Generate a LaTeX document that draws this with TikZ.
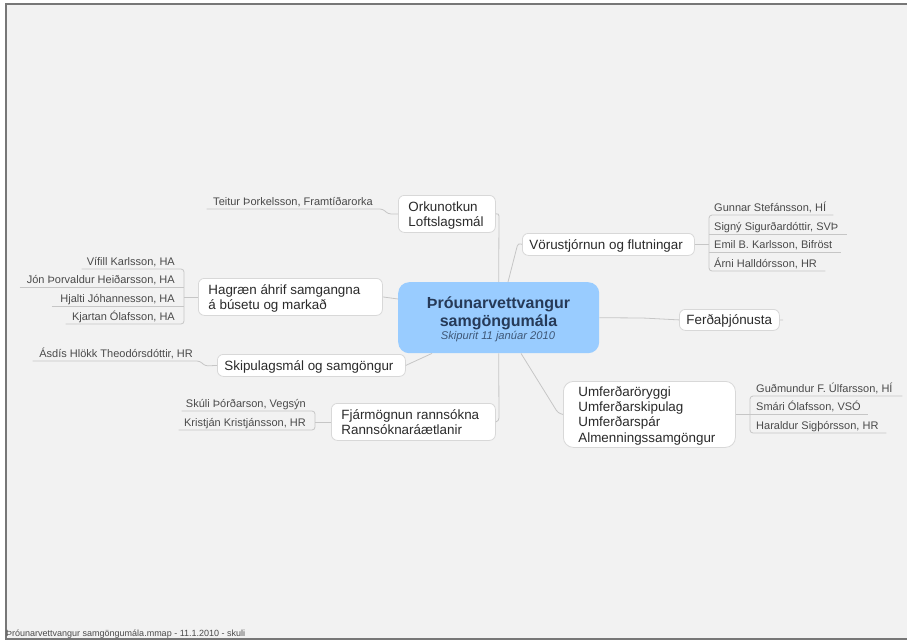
\documentclass[tikz,border=0pt]{standalone}
\usepackage{fontspec}
\setmainfont{Liberation Sans}
\definecolor{bgc}{HTML}{F2F2F2}
\definecolor{framec}{HTML}{777777}
\definecolor{linec}{HTML}{C6C6C6}
\definecolor{edgec}{HTML}{D8D8D8}
\definecolor{txtc}{HTML}{2A2A2A}
\definecolor{leafc}{HTML}{4A4A4A}
\definecolor{rootc}{HTML}{99CCFF}
\definecolor{roott}{HTML}{263A58}
\definecolor{subt}{HTML}{3F5878}
% box text: width, left pad, lines
\newcommand{\boxtext}[3]{\vbox{\kern3.6pt\hbox to #1pt{\hskip #2pt\begin{tabular}{@{}l@{}}#3\end{tabular}\hss}}}
\newcommand{\leftleaf}[3]{\hbox to #1pt{\hss #3\hskip #2pt}}
\newcommand{\rightleaf}[3]{\hbox to #1pt{\hskip #2pt #3\hss}}
\tikzset{
  topic/.style={draw=edgec,line width=0.8pt,fill=white,rounded corners=6pt,inner sep=0pt,anchor=north west,
    text=txtc,font=\fontsize{13.4}{15.2}\selectfont},
  leafnode/.style={inner xsep=0pt,inner ysep=3.5pt,text depth=0pt,text=leafc,font=\fontsize{11}{13}\selectfont},
  leafl/.style={leafnode,anchor=south east},
  leafr/.style={leafnode,anchor=south west},
  conn/.style={draw=linec,line width=0.8pt,rounded corners=3pt},
}
\begin{document}
\begin{tikzpicture}[x=1pt,y=-1pt]
\useasboundingbox (0,0) rectangle (907,640);
\fill[white] (0,0) rectangle (907,640);
\fill[bgc] (6,4) rectangle (907,638);
\draw[framec,line width=2pt] (907,3.5) -- (5.5,3.5) -- (5.5,638.5) -- (907,638.5);

% topics
\node[draw=none,fill=rootc,rounded corners=11pt,minimum width=201pt,minimum height=71pt,inner sep=0pt,anchor=north west] (root) at (398,282) {};
\node[font=\fontsize{16}{17.5}\selectfont\bfseries,text=roott,align=center,inner sep=0pt,anchor=base] (title) at (498.5,326) {Þróunarvettvangur\\samgöngumála};
\node[font=\fontsize{11.2}{13}\selectfont\itshape,text=subt,inner sep=0pt,anchor=base] (sub) at (498,339.5) {Skipurit 11 janúar 2010};

\node[topic,minimum height=37pt] (ork) at (398,195) {\boxtext{97}{10}{Orkunotkun\\Loftslagsmál}};
\node[topic,minimum height=22pt] (vor) at (522,233) {\boxtext{172}{7}{Vörustjórnun og flutningar}};
\node[topic,minimum height=21pt] (ferd) at (679,309) {\boxtext{100}{7}{Ferðaþjónusta}};
\node[topic,minimum height=66pt,rounded corners=10pt] (umf) at (563,381) {\boxtext{172}{15}{Umferðaröryggi\\Umferðarskipulag\\Umferðarspár\\Almenningssamgöngur}};
\node[topic,minimum height=37pt] (hag) at (198,278) {\boxtext{184}{10}{Hagræn áhrif samgangna\\á búsetu og markað}};
\node[topic,minimum height=22pt] (ski) at (217,354) {\boxtext{188}{7}{Skipulagsmál og samgöngur}};
\node[topic,minimum height=37pt] (fja) at (331,403) {\boxtext{164}{10}{Fjármögnun rannsókna\\Rannsóknaráætlanir}};

% leaves left
\node[leafl] (teitur) at (383,209) {\leftleaf{176}{10}{Teitur Þorkelsson, Framtíðarorka}};
\node[leafl] (vifill) at (184,269) {\leftleaf{102}{9}{Vífill Karlsson, HA}};
\node[leafl] (jon) at (184,287) {\leftleaf{164}{9}{Jón Þorvaldur Heiðarsson, HA}};
\node[leafl] (hjalti) at (184,306) {\leftleaf{132}{9}{Hjalti  Jóhannesson, HA}};
\node[leafl] (kjartan) at (184,324) {\leftleaf{118}{9}{Kjartan Ólafsson, HA}};
\node[leafl] (asdis) at (200,361) {\leftleaf{167}{7}{Ásdís Hlökk Theodórsdóttir, HR}};
\node[leafl] (skuli) at (315,411) {\leftleaf{133}{9}{Skúli Þórðarson, Vegsýn}};
\node[leafl] (krist) at (315,430) {\leftleaf{136}{9}{Kristján Kristjánsson, HR}};
% leaves right
\node[leafr] (gunnar) at (709,215) {\rightleaf{124}{5}{Gunnar Stefánsson, HÍ}};
\node[leafr] (signy) at (709,234) {\rightleaf{138}{5}{Signý Sigurðardóttir, SVÞ}};
\node[leafr] (emil) at (709,252) {\rightleaf{132}{5}{Emil B. Karlsson, Bifröst}};
\node[leafr] (arni) at (709,271) {\rightleaf{116}{5}{Árni Halldórsson, HR}};
\node[leafr] (gudm) at (750,396) {\rightleaf{152}{6}{Guðmundur F. Úlfarsson, HÍ}};
\node[leafr] (smari) at (750,414) {\rightleaf{118}{6}{Smári Ólafsson, VSÓ}};
\node[leafr] (harald) at (750,433) {\rightleaf{136}{6}{Haraldur Sigþórsson, HR}};

% connectors to root
\coordinate (orkj) at (499,213);
\coordinate (fjaj) at (499,421);
\draw[conn] (ork.east) -- (orkj) -- (root.north);
\draw[conn] (fja.east) -- (fjaj) -- (root.south);
\draw[conn] (root.north -| 508,0) -- (518,243) -- (vor.west);
\coordinate (ferj) at (643,318);
\draw[conn] (root.east) -- (ferj) -- (ferd.west);
\coordinate (ferend) at (783,320);
\draw[conn] (ferd.east) -- (ferend);
\draw[conn] (root.south -| 521,0) -- (558,413) -- (umf.west);
\draw[conn] (hag.east) -- (root.west |- 0,299);
\draw[conn] (ski.east) -- (root.south -| 432,0);

% leaf connectors
\draw[conn] (teitur.south west) -- (teitur.south east) -- (388,214) -- (ork.west);
\draw[conn] (vifill.south west) -- (vifill.south east) -- (kjartan.south east) -- (kjartan.south west);
\draw[conn] (jon.south west) -- (jon.south east);
\draw[conn] (hjalti.south west) -- (hjalti.south east);
\draw[conn] (hag.west) -- (hag.west -| jon.south east);
\draw[conn] (asdis.south west) -- (asdis.south east) -- (205,366) -- (ski.west);
\draw[conn] (skuli.south west) -- (skuli.south east) -- (krist.south east) -- (krist.south west);
\draw[conn] (fja.west) -- (fja.west -| krist.south east);

\draw[conn] (gunnar.south east) -- (gunnar.south west) -- (arni.south west) -- (arni.south east);
\draw[conn] (signy.south west) -- (signy.south east);
\draw[conn] (emil.south west) -- (emil.south east);
\draw[conn] (vor.east) -- (vor.east -| emil.south west);
\draw[conn] (gudm.south east) -- (gudm.south west) -- (harald.south west) -- (harald.south east);
\draw[conn] (smari.south west) -- (smari.south east);
\draw[conn] (umf.east |- smari.south) -- (smari.south west);

% footer
\node[font=\fontsize{9}{10}\selectfont,text=leafc,inner sep=0pt,anchor=base west] (foot) at (6,636.5) {Þróunarvettvangur samgöngumála.mmap - 11.1.2010 - skuli};
\end{tikzpicture}
\end{document}
